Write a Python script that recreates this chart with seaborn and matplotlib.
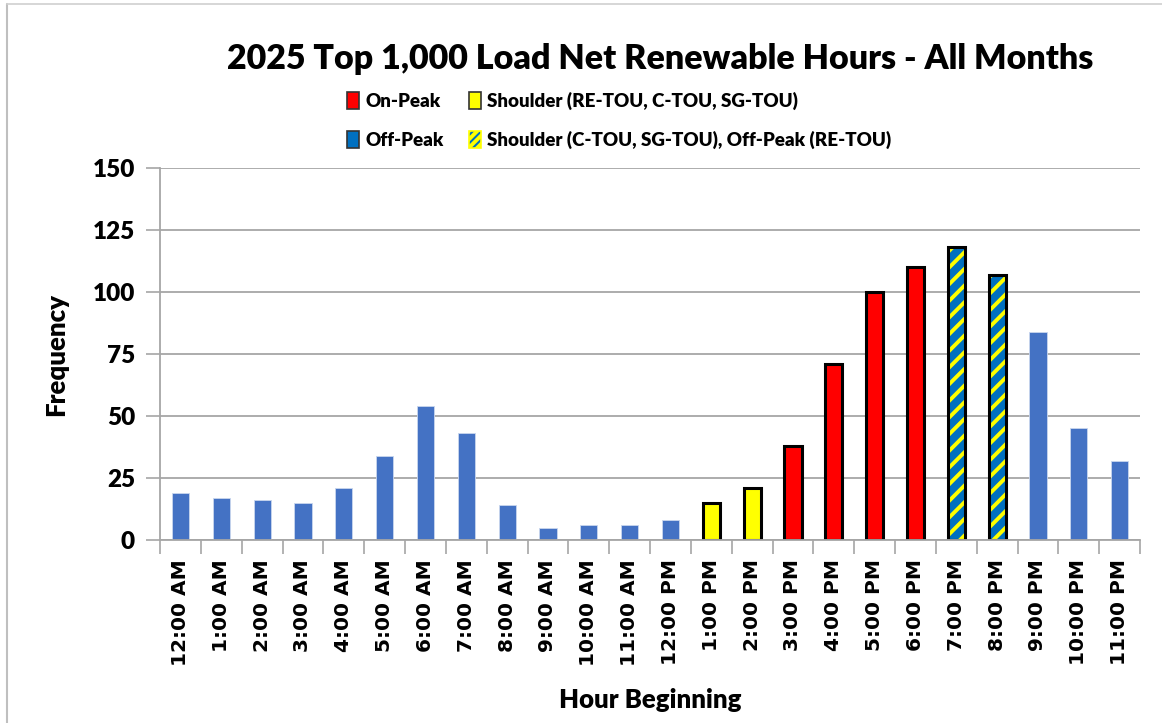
import matplotlib
matplotlib.use("Agg")
import matplotlib.pyplot as plt
from matplotlib.patches import Patch, Rectangle
import seaborn as sns

# Hour-of-day categories and how often each appears among the top 1,000 hours
hours = ["12:00 AM", "1:00 AM", "2:00 AM", "3:00 AM", "4:00 AM", "5:00 AM",
         "6:00 AM", "7:00 AM", "8:00 AM", "9:00 AM", "10:00 AM", "11:00 AM",
         "12:00 PM", "1:00 PM", "2:00 PM", "3:00 PM", "4:00 PM", "5:00 PM",
         "6:00 PM", "7:00 PM", "8:00 PM", "9:00 PM", "10:00 PM", "11:00 PM"]
frequency = [19, 17, 16, 15, 21, 34, 54, 43, 14, 5, 6, 6,
             8, 15, 21, 38, 71, 100, 110, 118, 107, 84, 45, 32]
period = ["off"] * 13 + ["shoulder"] * 2 + ["on"] * 4 + ["mixed"] * 2 + ["off"] * 3

legend_labels = {
    "on": "On-Peak",
    "off": "Off-Peak",
    "shoulder": "Shoulder (RE-TOU, C-TOU, SG-TOU)",
    "mixed": "Shoulder (C-TOU, SG-TOU), Off-Peak (RE-TOU)",
}
y_ticks = [0, 25, 50, 75, 100, 125, 150]

RED = "#FF0000"
YELLOW = "#FFFF00"
BAR_BLUE = "#4472C4"
DEEP_BLUE = "#0070C0"
fill = {"on": RED, "shoulder": YELLOW, "off": BAR_BLUE, "mixed": DEEP_BLUE}

sns.set_theme(style="white")
plt.rcParams["font.family"] = ["Lato", "DejaVu Sans"]
plt.rcParams["hatch.linewidth"] = 2.8
for key in ("text.color", "axes.labelcolor", "xtick.labelcolor", "ytick.labelcolor"):
    plt.rcParams[key] = "black"

fig = plt.figure(figsize=(11.62, 7.23), dpi=100)
ax = fig.add_axes([0.1377, 0.2531, 0.8434, 0.5145])

sns.barplot(x=hours, y=frequency, hue=hours, palette=[fill[p] for p in period],
            width=0.42, legend=False, ax=ax, saturation=1)

for patch, p in zip(ax.patches, period):
    if p == "off":
        patch.set_edgecolor("#C9D6EE")
        patch.set_linewidth(0.6)
    elif p == "mixed":
        patch.set_facecolor(DEEP_BLUE)
        patch.set_edgecolor(YELLOW)
        patch.set_hatch("//")
        patch.set_linewidth(0)
        ax.add_patch(Rectangle(patch.get_xy(), patch.get_width(), patch.get_height(),
                               fill=False, edgecolor="black", linewidth=2.2,
                               zorder=patch.get_zorder() + 0.1))
    else:
        patch.set_edgecolor("black")
        patch.set_linewidth(2.2)

ax.set_xlim(-0.5, len(hours) - 0.5)
ax.set_ylim(0, 150)
ax.set_yticks(y_ticks)
ax.set_yticklabels([str(v) for v in y_ticks], fontsize=17.5, fontweight="heavy")
ax.yaxis.grid(True, color="#A6A6A6", linewidth=1.3)
ax.set_axisbelow(True)

# Category ticks sit on the boundaries between hours
ax.set_xticks(range(len(hours)))
ax.set_xticklabels(hours, rotation=90, fontsize=14.5, fontweight="bold",
                   family=["DejaVu Sans"])
ax.tick_params(axis="x", length=0, pad=14)
ax.set_xticks([i - 0.5 for i in range(len(hours) + 1)], minor=True)
ax.tick_params(axis="x", which="minor", length=10, width=1.2, color="#A6A6A6",
               direction="out", bottom=True)
ax.tick_params(axis="y", length=10, width=1.2, color="#A6A6A6", direction="out",
               left=True, pad=8)

for side in ("top", "right"):
    ax.spines[side].set_visible(False)
for side in ("left", "bottom"):
    ax.spines[side].set_color("#A6A6A6")
    ax.spines[side].set_linewidth(1.3)

ax.set_xlabel("Hour Beginning", fontsize=18.5, fontweight="heavy", labelpad=16)
ax.set_ylabel("Frequency", fontsize=18.5, fontweight="heavy", labelpad=18)

fig.text(0.568, 0.919, "2025 Top 1,000 Load Net Renewable Hours - All Months",
         ha="center", va="center", fontsize=24.5, fontweight="heavy")

handles = [
    Patch(facecolor=RED, edgecolor="#333333", linewidth=1.2, label=legend_labels["on"]),
    Patch(facecolor=DEEP_BLUE, edgecolor="#333333", linewidth=1.2, label=legend_labels["off"]),
    Patch(facecolor=YELLOW, edgecolor="#333333", linewidth=1.2, label=legend_labels["shoulder"]),
    Patch(facecolor=DEEP_BLUE, edgecolor="#333333", linewidth=1.2, label=legend_labels["mixed"]),
]
leg = fig.legend(handles=handles, ncol=2, loc="center", bbox_to_anchor=(0.533, 0.833),
                 frameon=False, handlelength=0.65, handleheight=1.0, handletextpad=0.35,
                 columnspacing=1.3, labelspacing=1.1,
                 prop={"family": ["Lato", "DejaVu Sans"], "weight": "heavy", "size": 13.5})
leg.legend_handles[3].set_hatch("////")
leg.legend_handles[3].set_edgecolor(YELLOW)

# Outer chart frame (left and top edges)
fig.add_artist(plt.Line2D([7 / 1162, 7 / 1162], [0, 1 - 4 / 723], color="#BFBFBF",
                          linewidth=1.5, transform=fig.transFigure))
fig.add_artist(plt.Line2D([7 / 1162, 1], [1 - 4 / 723, 1 - 4 / 723], color="#D0D0D0",
                          linewidth=1.2, transform=fig.transFigure))

fig.savefig("out.png", dpi=100, facecolor="white")
